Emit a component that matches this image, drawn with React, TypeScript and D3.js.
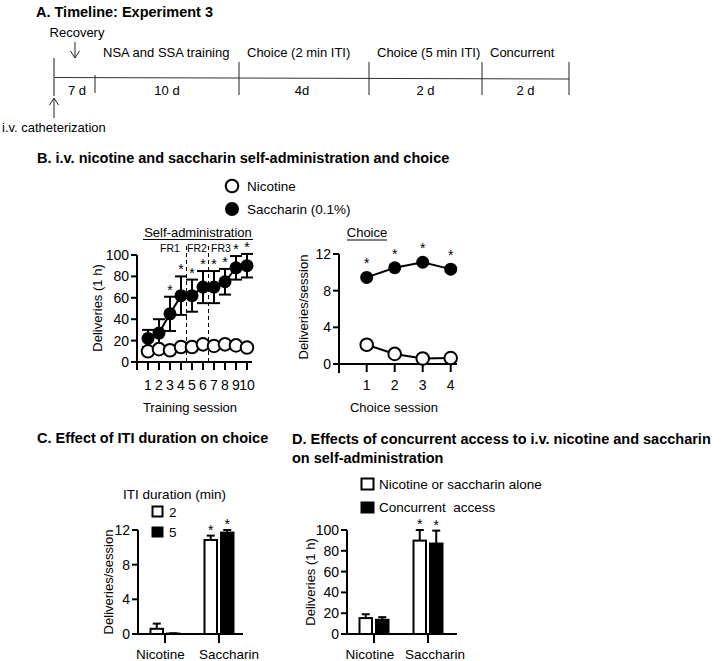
import React from "react";
import * as d3 from "d3";

// ---------- Data ----------
const timelineBounds = [54, 95, 239, 369, 482, 569]; // layout of phase boundaries (px)
const phaseTop = ["", "NSA and SSA training", "Choice (2 min ITI)", "Choice (5 min ITI)", "Concurrent"];
const phaseDur = ["7 d", "10 d", "4d", "2 d", "2 d"];

const trainSessions = [1, 2, 3, 4, 5, 6, 7, 8, 9, 10];
const nicotineSA = [10, 12, 11, 14, 14, 16.5, 15, 16.5, 15.5, 13.5];
const saccharinSA = [22, 27, 45, 62, 62, 70, 70, 75, 88, 90];
const saccharinSAErr = [8, 13, 16, 18, 15, 15, 15, 12, 11, 11];
const saccharinSASig = [false, false, true, true, true, true, true, true, true, true];
const saTicks = [0, 20, 40, 60, 80, 100];
const frLabels = ["FR1", "FR2", "FR3"];

const choiceSessions = [1, 2, 3, 4];
const nicotineChoice = [2.1, 1.1, 0.6, 0.65];
const saccharinChoice = [9.45, 10.5, 11.1, 10.35];
const choiceTicks = [0, 4, 8, 12];

const barGroups = ["Nicotine", "Saccharin"];
const iti2 = [0.6, 10.85];
const iti2Err = [0.6, 0.5];
const iti5 = [0.05, 11.7];
const iti5Err = [0.03, 0.3];
const itiSig = [false, true];

const alone = [15.3, 89.8];
const aloneErr = [3.7, 10.2];
const concurrent = [13.7, 87];
const concurrentErr = [2.5, 12.4];
const concSig = [false, true];

const FONT = "'Liberation Sans', Arial, Helvetica, sans-serif";

function Star({ x, y }: { x: number; y: number }) {
  // y is visual centre of the asterisk
  return (
    <text x={x} y={y + 8} textAnchor="middle" fontSize={14}>
      *
    </text>
  );
}

function YAxis({ x, scale, ticks, bottomExt = 0, labelOffset = 7 }: any) {
  const [y0, y1] = scale.range();
  return (
    <g>
      <line x1={x} x2={x} y1={y1} y2={y0 + bottomExt} stroke="#000" strokeWidth={2} />
      {ticks.map((t: number) => (
        <g key={t}>
          <line x1={x - 6} x2={x} y1={scale(t)} y2={scale(t)} stroke="#000" strokeWidth={2} />
          <text x={x - labelOffset - 1} y={scale(t)} dy="0.36em" textAnchor="end" fontSize={14}>
            {t}
          </text>
        </g>
      ))}
    </g>
  );
}

function Timeline() {
  const b = timelineBounds;
  return (
    <g fontSize={13}>
      <text x={36} y={17} fontWeight="bold" fontSize={14.5}>A. Timeline: Experiment 3</text>
      <line x1={b[0]} x2={b[b.length - 1]} y1={77.5} y2={79} stroke="#333" strokeWidth={1} />
      <line x1={b[0]} x2={b[0]} y1={58} y2={96} stroke="#666" strokeWidth={1.5} />
      <line x1={b[1]} x2={b[1]} y1={75} y2={93} stroke="#222" strokeWidth={1} />
      {b.slice(2).map((x, i) => (
        <line key={i} x1={x} x2={x} y1={62} y2={95} stroke="#222" strokeWidth={1} />
      ))}
      {phaseTop.map((t, i) =>
        t ? (
          <text key={i} x={b[i] + 8} y={57}>{t}</text>
        ) : null
      )}
      {phaseDur.map((t, i) => (
        <text key={i} x={i === 0 ? 77 : i === 2 ? 302 : (b[i] + b[i + 1]) / 2} y={95} textAnchor="middle">{t}</text>
      ))}
      <text x={77} y={37} textAnchor="middle">Recovery</text>
      <path d="M75,42 L75,58 M70.5,51 L75,58 L79.5,51" fill="none" stroke="#222" strokeWidth={1} />
      <path d="M54,118 L54,98 M49.5,105 L54,98 L58.5,105" fill="none" stroke="#222" strokeWidth={1} />
      <text x={2} y={132}>i.v. catheterization</text>
    </g>
  );
}

function SelfAdmin() {
  const x = d3.scaleLinear().domain([1, 10]).range([148, 247]);
  const y = d3.scaleLinear().domain([0, 100]).range([362, 255]);
  const line = d3.line<number>().x((_, i) => x(trainSessions[i])).y((d) => y(d));
  const axisX = 137;
  const dash1 = (x(4) + x(5)) / 2;
  const dash2 = (x(6) + x(7)) / 2;
  return (
    <g>
      <text x={198} y={236.5} textAnchor="middle" fontSize={13}>Self-administration</text>
      <line x1={143} x2={253} y1={239.5} y2={239.5} stroke="#000" strokeWidth={1} />
      <text x={170} y={252} textAnchor="middle" fontSize={10.5}>{frLabels[0]}</text>
      <text x={197} y={252} textAnchor="middle" fontSize={10.5}>{frLabels[1]}</text>
      <text x={221} y={252} textAnchor="middle" fontSize={10.5}>{frLabels[2]}</text>
      <line x1={dash1} x2={dash1} y1={246} y2={362} stroke="#000" strokeWidth={1} strokeDasharray="4,3" />
      <line x1={dash2} x2={dash2} y1={246} y2={362} stroke="#000" strokeWidth={1} strokeDasharray="4,3" />
      <YAxis x={axisX} scale={y} ticks={saTicks} bottomExt={8} />
      <line x1={axisX} x2={x(10) + 5} y1={362} y2={362} stroke="#000" strokeWidth={2} />
      {trainSessions.map((s) => (
        <g key={s}>
          <line x1={x(s)} x2={x(s)} y1={362} y2={370} stroke="#000" strokeWidth={2} />
          <text x={x(s)} y={390} textAnchor="middle" fontSize={14}>{s}</text>
        </g>
      ))}
      <text x={190} y={412} textAnchor="middle" fontSize={13}>Training session</text>
      <text transform={`translate(97,308) rotate(-90)`} dy="0.35em" textAnchor="middle" fontSize={13}>
        Deliveries (1 h)
      </text>
      {/* saccharin */}
      {saccharinSA.map((v, i) => {
        const cx = x(trainSessions[i]);
        const e = saccharinSAErr[i];
        return (
          <g key={i} stroke="#000" strokeWidth={2}>
            <line x1={cx} x2={cx} y1={y(v + e)} y2={y(v - e)} />
            <line x1={cx - 6} x2={cx + 6} y1={y(v + e)} y2={y(v + e)} />
            <line x1={cx - 6} x2={cx + 6} y1={y(v - e)} y2={y(v - e)} />
          </g>
        );
      })}
      <path d={line(saccharinSA) || ""} fill="none" stroke="#000" strokeWidth={2} />
      {saccharinSA.map((v, i) => (
        <circle key={i} cx={x(trainSessions[i])} cy={y(v)} r={6.5} fill="#000" />
      ))}
      {saccharinSA.map((v, i) =>
        saccharinSASig[i] ? <Star key={i} x={x(trainSessions[i])} y={y(v + saccharinSAErr[i]) - 10} /> : null
      )}
      {/* nicotine */}
      <path d={line(nicotineSA) || ""} fill="none" stroke="#000" strokeWidth={2} />
      {nicotineSA.map((v, i) => (
        <circle key={i} cx={x(trainSessions[i])} cy={y(v)} r={6.3} fill="#fff" stroke="#000" strokeWidth={2} />
      ))}
    </g>
  );
}

function Choice() {
  const x = d3.scaleLinear().domain([1, 4]).range([366.7, 450.7]);
  const y = d3.scaleLinear().domain([0, 12]).range([364, 254]);
  const line = d3.line<number>().x((_, i) => x(choiceSessions[i])).y((d) => y(d));
  const axisX = 339;
  return (
    <g>
      <text x={367} y={237} textAnchor="middle" fontSize={13}>Choice</text>
      <line x1={347} x2={387} y1={240} y2={240} stroke="#000" strokeWidth={1} />
      <YAxis x={axisX} scale={y} ticks={choiceTicks} bottomExt={9} />
      <line x1={axisX} x2={457} y1={364} y2={364} stroke="#000" strokeWidth={2} />
      {choiceSessions.map((s) => (
        <g key={s}>
          <line x1={x(s)} x2={x(s)} y1={364} y2={372} stroke="#000" strokeWidth={2} />
          <text x={x(s)} y={390} textAnchor="middle" fontSize={14}>{s}</text>
        </g>
      ))}
      <text x={394} y={412} textAnchor="middle" fontSize={13}>Choice session</text>
      <text transform={`translate(303,307) rotate(-90)`} dy="0.35em" textAnchor="middle" fontSize={13}>
        Deliveries/session
      </text>
      <path d={line(saccharinChoice) || ""} fill="none" stroke="#000" strokeWidth={2} />
      {saccharinChoice.map((v, i) => (
        <g key={i}>
          <circle cx={x(choiceSessions[i])} cy={y(v)} r={6.5} fill="#000" />
          <Star x={x(choiceSessions[i])} y={y(v) - 17} />
        </g>
      ))}
      <path d={line(nicotineChoice) || ""} fill="none" stroke="#000" strokeWidth={2} />
      {nicotineChoice.map((v, i) => (
        <circle key={i} cx={x(choiceSessions[i])} cy={y(v)} r={6.3} fill="#fff" stroke="#000" strokeWidth={2} />
      ))}
    </g>
  );
}

function BarPanel({ yDomain, yRange, ticks, axisX, axisEnd, groupRange, labelCenters, a, aErr, b, bErr, sig, label, labelX }: any) {
  const y = d3.scaleLinear().domain(yDomain).range(yRange);
  const gx = d3.scalePoint<string>().domain(barGroups).range(groupRange);
  const bw = 14.5;
  const base = yRange[0];
  const series = [
    { vals: a, errs: aErr, fill: "#fff", off: -bw - 1 },
    { vals: b, errs: bErr, fill: "#000", off: 1 },
  ];
  return (
    <g>
      <YAxis x={axisX} scale={y} ticks={ticks} />
      <line x1={axisX} x2={axisEnd} y1={base} y2={base} stroke="#000" strokeWidth={2} />
      {barGroups.map((g, gi) => (
        <g key={g}>
          <line x1={gx(g)} x2={gx(g)} y1={base} y2={base + 9} stroke="#000" strokeWidth={2} />
          <text x={labelCenters[gi]} y={659} textAnchor="middle" fontSize={13.5}>{g}</text>
        </g>
      ))}
      {series.map((s, si) =>
        barGroups.map((g, gi) => {
          const v = s.vals[gi];
          const e = s.errs[gi];
          const x0 = (gx(g) as number) + s.off;
          const top = y(v);
          return (
            <g key={si + "-" + gi}>
              <line x1={x0 + bw / 2} x2={x0 + bw / 2} y1={top} y2={y(v + e)} stroke="#000" strokeWidth={2} />
              <line x1={x0 + bw / 2 - 4} x2={x0 + bw / 2 + 4} y1={y(v + e)} y2={y(v + e)} stroke="#000" strokeWidth={2} />
              <rect x={x0 + 1} y={top} width={bw - 2} height={Math.max(0, base - top)} fill={s.fill} stroke="#000" strokeWidth={2} />
              {sig[gi] ? <Star x={x0 + bw / 2} y={y(v + e) - 9} /> : null}
            </g>
          );
        })
      )}
      <text transform={`translate(${labelX},582) rotate(-90)`} dy="0.35em" textAnchor="middle" fontSize={13}>
        {label}
      </text>
    </g>
  );
}

export default function App() {
  return (
    <svg
      width={725}
      height={661}
      viewBox="0 0 725 661"
      style={{ position: "absolute", left: 0, top: 0, background: "#fff" }}
      fontFamily={FONT}
    >
      <rect width={725} height={661} fill="#fff" />
      <Timeline />
      <text x={37} y={163} fontWeight="bold" fontSize={14.5}>
        B. i.v. nicotine and saccharin self-administration and choice
      </text>
      <circle cx={232} cy={186} r={6.3} fill="#fff" stroke="#000" strokeWidth={2} />
      <text x={247} y={191} fontSize={13.5}>Nicotine</text>
      <circle cx={232} cy={209} r={7} fill="#000" />
      <text x={247} y={214} fontSize={13.5}>Saccharin (0.1%)</text>
      <SelfAdmin />
      <Choice />

      <text x={37} y={443} fontWeight="bold" fontSize={14.5}>C. Effect of ITI duration on choice</text>
      <text x={292} y={444} fontWeight="bold" fontSize={14.5}>
        D. Effects of concurrent access to i.v. nicotine and saccharin
      </text>
      <text x={292} y={463} fontWeight="bold" fontSize={14.5}>on self-administration</text>

      {/* C legend */}
      <text x={174.5} y={499} textAnchor="middle" fontSize={13.5}>ITI duration (min)</text>
      <rect x={152.5} y={506.5} width={10} height={10} fill="#fff" stroke="#000" strokeWidth={2} />
      <text x={169} y={516.5} fontSize={13.5}>2</text>
      <rect x={151.5} y={526.5} width={12} height={11} fill="#000" />
      <text x={169} y={537} fontSize={13.5}>5</text>
      <BarPanel
        yDomain={[0, 12]}
        yRange={[634, 530]}
        ticks={choiceTicks}
        axisX={138}
        axisEnd={243}
        groupRange={[165, 219]}
        labelCenters={[160.5, 229]}
        a={iti2}
        aErr={iti2Err}
        b={iti5}
        bErr={iti5Err}
        sig={itiSig}
        label="Deliveries/session"
        labelX={108}
      />

      {/* D legend */}
      <rect x={361.5} y={478.5} width={12} height={11} fill="#fff" stroke="#000" strokeWidth={2} />
      <text x={379} y={489} fontSize={13.5}>Nicotine or saccharin alone</text>
      <rect x={360.5} y={501.5} width={14} height={12} fill="#000" />
      <text x={379} y={512} fontSize={13.5} style={{ whiteSpace: "pre" }}>Concurrent  access</text>
      <BarPanel
        yDomain={[0, 100]}
        yRange={[634, 530]}
        ticks={saTicks}
        axisX={347}
        axisEnd={457}
        groupRange={[374, 428]}
        labelCenters={[370, 435]}
        a={alone}
        aErr={aloneErr}
        b={concurrent}
        bErr={concurrentErr}
        sig={concSig}
        label="Deliveries (1 h)"
        labelX={310}
      />
    </svg>
  );
}
